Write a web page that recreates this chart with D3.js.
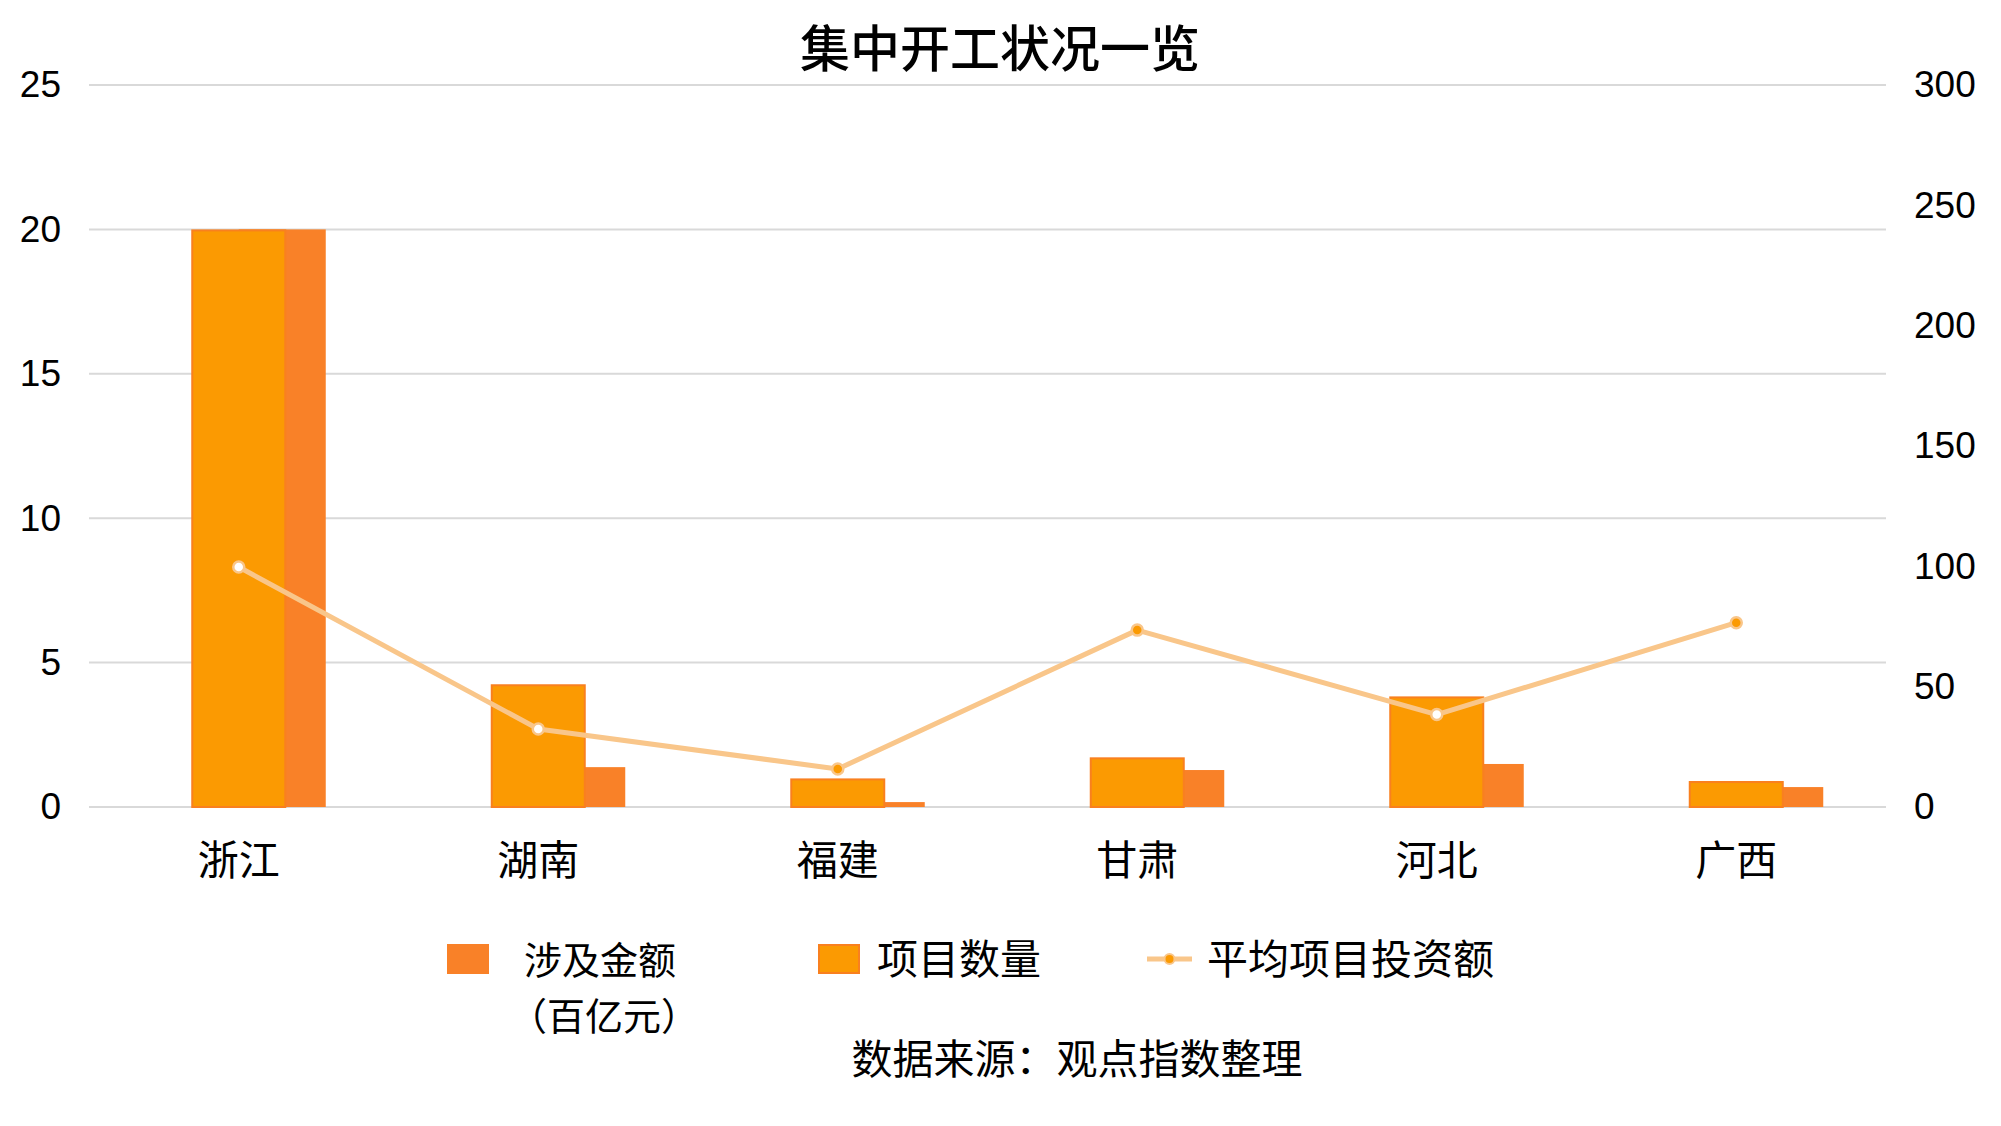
<!DOCTYPE html>
<html>
<head>
<meta charset="utf-8">
<script src="https://cdn.jsdelivr.net/npm/d3@7"></script>
<style>
  html, body { margin: 0; padding: 0; background: #fff; }
  svg { display: block; }
</style>
</head>
<body>
<svg id="chart" width="2001" height="1126"></svg>
<script>
// ---- data ----
const categories = ["浙江", "湖南", "福建", "甘肃", "河北", "广西"];
const projectCount = [20, 4.25, 0.99, 1.72, 3.83, 0.90];      // 项目数量 (left axis)
const amount = [20, 1.38, 0.17, 1.28, 1.49, 0.69];            // 涉及金额（百亿元）(left axis)
const avgInvest = [99.7, 32.4, 15.8, 73.5, 38.4, 76.6];       // 平均项目投资额 (right axis)
const leftTicks = [0, 5, 10, 15, 20, 25];
const rightTicks = [0, 50, 100, 150, 200, 250, 300];
const titleText = "集中开工状况一览";
const sourceText = "数据来源：观点指数整理";

// ---- styles ----
const cProject = "#FB9A02", cProjectStroke = "#F9801F", cAmount = "#F98128", cLine = "#F9C68A";
const markerFilled = [false, false, true, true, false, true];
const cjk = "'Noto Sans CJK SC', 'Noto Sans', sans-serif";
const latin = "'Liberation Sans', Arial, sans-serif";

const svg = d3.select("#chart");
const pLeft = 89, pRight = 1886, pTop = 85, pBottom = 807;

const x = d3.scaleBand().domain(categories).range([pLeft, pRight]).padding(0);
const yL = d3.scaleLinear().domain([0, 25]).range([pBottom, pTop]);
const yR = d3.scaleLinear().domain([0, 300]).range([pBottom, pTop]);

// gridlines
svg.append("g").selectAll("line").data(leftTicks).join("line")
  .attr("x1", pLeft).attr("x2", pRight)
  .attr("y1", d => yL(d)).attr("y2", d => yL(d))
  .attr("stroke", "#d9d9d9").attr("stroke-width", 2);

// left axis
const axL = svg.append("g").attr("transform", `translate(${pLeft},0)`)
  .call(d3.axisLeft(yL).tickValues(leftTicks).tickSize(0).tickPadding(28));
axL.select(".domain").remove();
axL.selectAll("text").attr("font-family", latin).attr("font-size", 37).attr("fill", "#000");

// right axis
const axR = svg.append("g").attr("transform", `translate(${pRight},0)`)
  .call(d3.axisRight(yR).tickValues(rightTicks).tickSize(0).tickPadding(28));
axR.select(".domain").remove();
axR.selectAll("text").attr("font-family", latin).attr("font-size", 37).attr("fill", "#000");

// category axis labels
const axX = svg.append("g").attr("transform", `translate(0,${pBottom})`)
  .call(d3.axisBottom(x).tickSize(0).tickPadding(39));
axX.select(".domain").remove();
axX.selectAll("text").attr("font-family", cjk).attr("font-size", 41).attr("fill", "#000");

const cx = d => x(d) + x.bandwidth() / 2;
const projW = 95, amtRight = 87;

// amount bars (behind)
svg.append("g").selectAll("rect").data(categories).join("rect")
  .attr("x", d => cx(d))
  .attr("width", amtRight)
  .attr("y", (d, i) => yL(amount[i]))
  .attr("height", (d, i) => yL(0) - yL(amount[i]))
  .attr("fill", cAmount);

// project count bars
svg.append("g").selectAll("rect").data(categories).join("rect")
  .attr("x", d => cx(d) - projW / 2 + 1)
  .attr("width", projW - 2)
  .attr("y", (d, i) => yL(projectCount[i]) + 1)
  .attr("height", (d, i) => yL(0) - yL(projectCount[i]) - 1)
  .attr("fill", cProject)
  .attr("stroke", cProjectStroke).attr("stroke-width", 2);

// line
const line = d3.line().x((d, i) => cx(categories[i])).y(d => yR(d));
svg.append("path").datum(avgInvest)
  .attr("d", line).attr("fill", "none")
  .attr("stroke", cLine).attr("stroke-width", 5).attr("stroke-linejoin", "round");

svg.append("g").selectAll("circle").data(avgInvest).join("circle")
  .attr("cx", (d, i) => cx(categories[i]))
  .attr("cy", d => yR(d))
  .attr("r", 5.5)
  .attr("fill", (d, i) => markerFilled[i] ? cProject : "#fff")
  .attr("stroke", cLine).attr("stroke-width", 2.5);

// title
svg.append("text").attr("x", 1000).attr("y", 45)
  .attr("text-anchor", "middle").attr("dominant-baseline", "central")
  .attr("font-family", cjk).attr("font-size", 50).attr("font-weight", 500)
  .attr("fill", "#000").text(titleText);

// legend
const lg = svg.append("g").attr("font-family", cjk).attr("font-size", 41).attr("fill", "#000");
lg.append("rect").attr("x", 447).attr("y", 944).attr("width", 42).attr("height", 30).attr("fill", cAmount);
lg.append("text").attr("x", 524).attr("y", 957).attr("font-size", 38)
  .attr("dominant-baseline", "central").text("涉及金额");
lg.append("text").attr("x", 509).attr("y", 1013).attr("font-size", 38)
  .attr("dominant-baseline", "central").text("（百亿元）");

lg.append("rect").attr("x", 819).attr("y", 945).attr("width", 40).attr("height", 28)
  .attr("fill", cProject).attr("stroke", cProjectStroke).attr("stroke-width", 2);
lg.append("text").attr("x", 877).attr("y", 974).text("项目数量");

lg.append("line").attr("x1", 1147).attr("x2", 1192).attr("y1", 959).attr("y2", 959)
  .attr("stroke", cLine).attr("stroke-width", 5);
lg.append("circle").attr("cx", 1169.5).attr("cy", 959).attr("r", 5)
  .attr("fill", cProject).attr("stroke", cLine).attr("stroke-width", 2);
lg.append("text").attr("x", 1207).attr("y", 974).text("平均项目投资额");

// source
svg.append("text").attr("x", 1077).attr("y", 1074)
  .attr("text-anchor", "middle")
  .attr("font-family", cjk).attr("font-size", 41).attr("fill", "#000").text(sourceText);
</script>
</body>
</html>
